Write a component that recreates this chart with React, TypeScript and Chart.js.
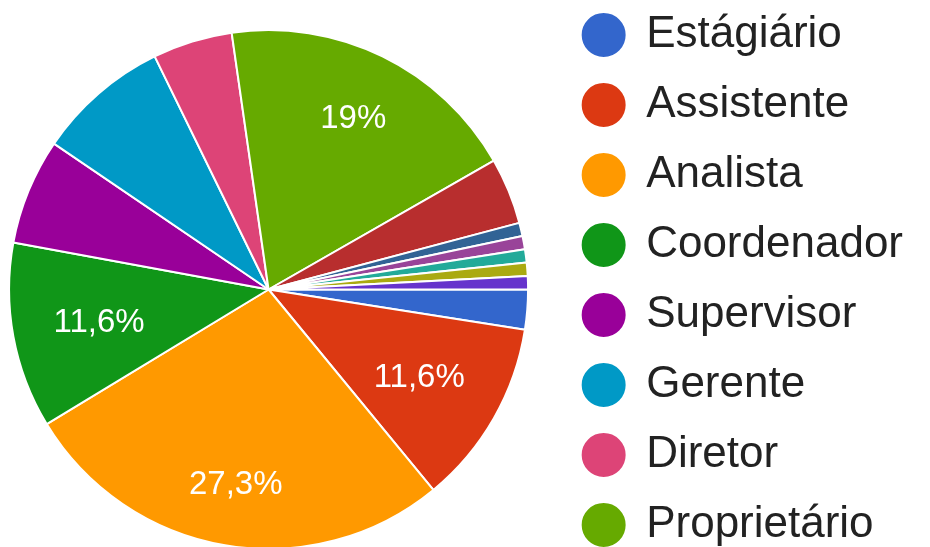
import { useEffect, useRef } from "react";
import { Chart, registerables } from "chart.js";

Chart.register(...registerables);

const categories = [
  "Estágiário",
  "Assistente",
  "Analista",
  "Coordenador",
  "Supervisor",
  "Gerente",
  "Diretor",
  "Proprietário",
  "Consultor",
  "Sócio",
  "Autônomo",
  "Professor",
  "Técnico",
  "Outro",
];
const responses = [3, 14, 33, 14, 8, 10, 6, 23, 5, 1, 1, 1, 1, 1];
const sliceColors = [
  "#3366cc",
  "#dc3912",
  "#ff9900",
  "#109618",
  "#990099",
  "#0099c6",
  "#dd4477",
  "#66aa00",
  "#b82e2e",
  "#316395",
  "#994499",
  "#22aa99",
  "#aaaa11",
  "#6633cc",
];
const legendCount = 8;
const labelThreshold = 0.1;

const FONT = "'Liberation Sans', Arial, Helvetica, sans-serif";

function formatPct(share: number): string {
  const v = Math.round(share * 1000) / 10;
  const s = Number.isInteger(v) ? String(v) : v.toFixed(1).replace(".", ",");
  return s + "%";
}

const sliceLabels = {
  id: "sliceLabels",
  afterDatasetsDraw(chart: any) {
    const meta = chart.getDatasetMeta(0);
    const data = chart.data.datasets[0].data as number[];
    const total = data.reduce((a, b) => a + b, 0);
    const ctx = chart.ctx as CanvasRenderingContext2D;
    const size = 33;
    ctx.save();
    ctx.font = `${size}px ${FONT}`;
    ctx.fillStyle = "#ffffff";
    ctx.textAlign = "center";
    ctx.textBaseline = "alphabetic";
    meta.data.forEach((arc: any, i: number) => {
      const share = data[i] / total;
      if (share < labelThreshold) return;
      const { x, y, startAngle, endAngle, outerRadius } = arc.getProps(
        ["x", "y", "startAngle", "endAngle", "outerRadius"],
        true
      );
      const mid = (startAngle + endAngle) / 2;
      const text = formatPct(share);
      const w = ctx.measureText(text).width;
      const h = size * 0.716;
      const c = Math.cos(mid);
      const s = Math.sin(mid);
      const a = (Math.sign(c) * w) / 2;
      const b = (Math.sign(s) * h) / 2;
      const R0 = outerRadius * 0.845;
      const k = a * c + b * s;
      const d = -k + Math.sqrt(k * k - (a * a + b * b - R0 * R0));
      const cx = x + d * c;
      const cy = y + d * s;
      ctx.fillText(text, cx, cy + h / 2);
    });
    ctx.restore();
  },
};

export default function App() {
  const canvasRef = useRef<HTMLCanvasElement | null>(null);

  useEffect(() => {
    if (!canvasRef.current) return;
    const chart = new Chart(canvasRef.current, {
      type: "pie",
      data: {
        labels: categories,
        datasets: [
          {
            data: responses,
            backgroundColor: sliceColors,
            borderColor: "#ffffff",
            borderWidth: 2,
            radius: 259.5,
          } as any,
        ],
      },
      options: {
        animation: false,
        responsive: false,
        rotation: 90,
        layout: { padding: 0 },
        plugins: {
          legend: {
            position: "right",
            align: "start",
            labels: {
              usePointStyle: true,
              pointStyle: "circle",
              boxWidth: 41,
              boxHeight: 32.5,
              padding: 26,
              color: "#222222",
              font: { family: FONT, size: 44 },
              filter: (item: any) => item.index < legendCount,
            },
          },
          tooltip: { enabled: false },
        },
      } as any,
      plugins: [sliceLabels],
    });
    return () => chart.destroy();
  }, []);

  return (
    <div
      style={{
        position: "absolute",
        left: 0,
        top: 0,
        width: 930,
        height: 547,
        overflow: "hidden",
        background: "#ffffff",
      }}
    >
      <div style={{ position: "absolute", left: -20, top: -13, width: 933, height: 605 }}>
        <canvas ref={canvasRef} width={933} height={605} style={{ width: 933, height: 605 }} />
      </div>
    </div>
  );
}
